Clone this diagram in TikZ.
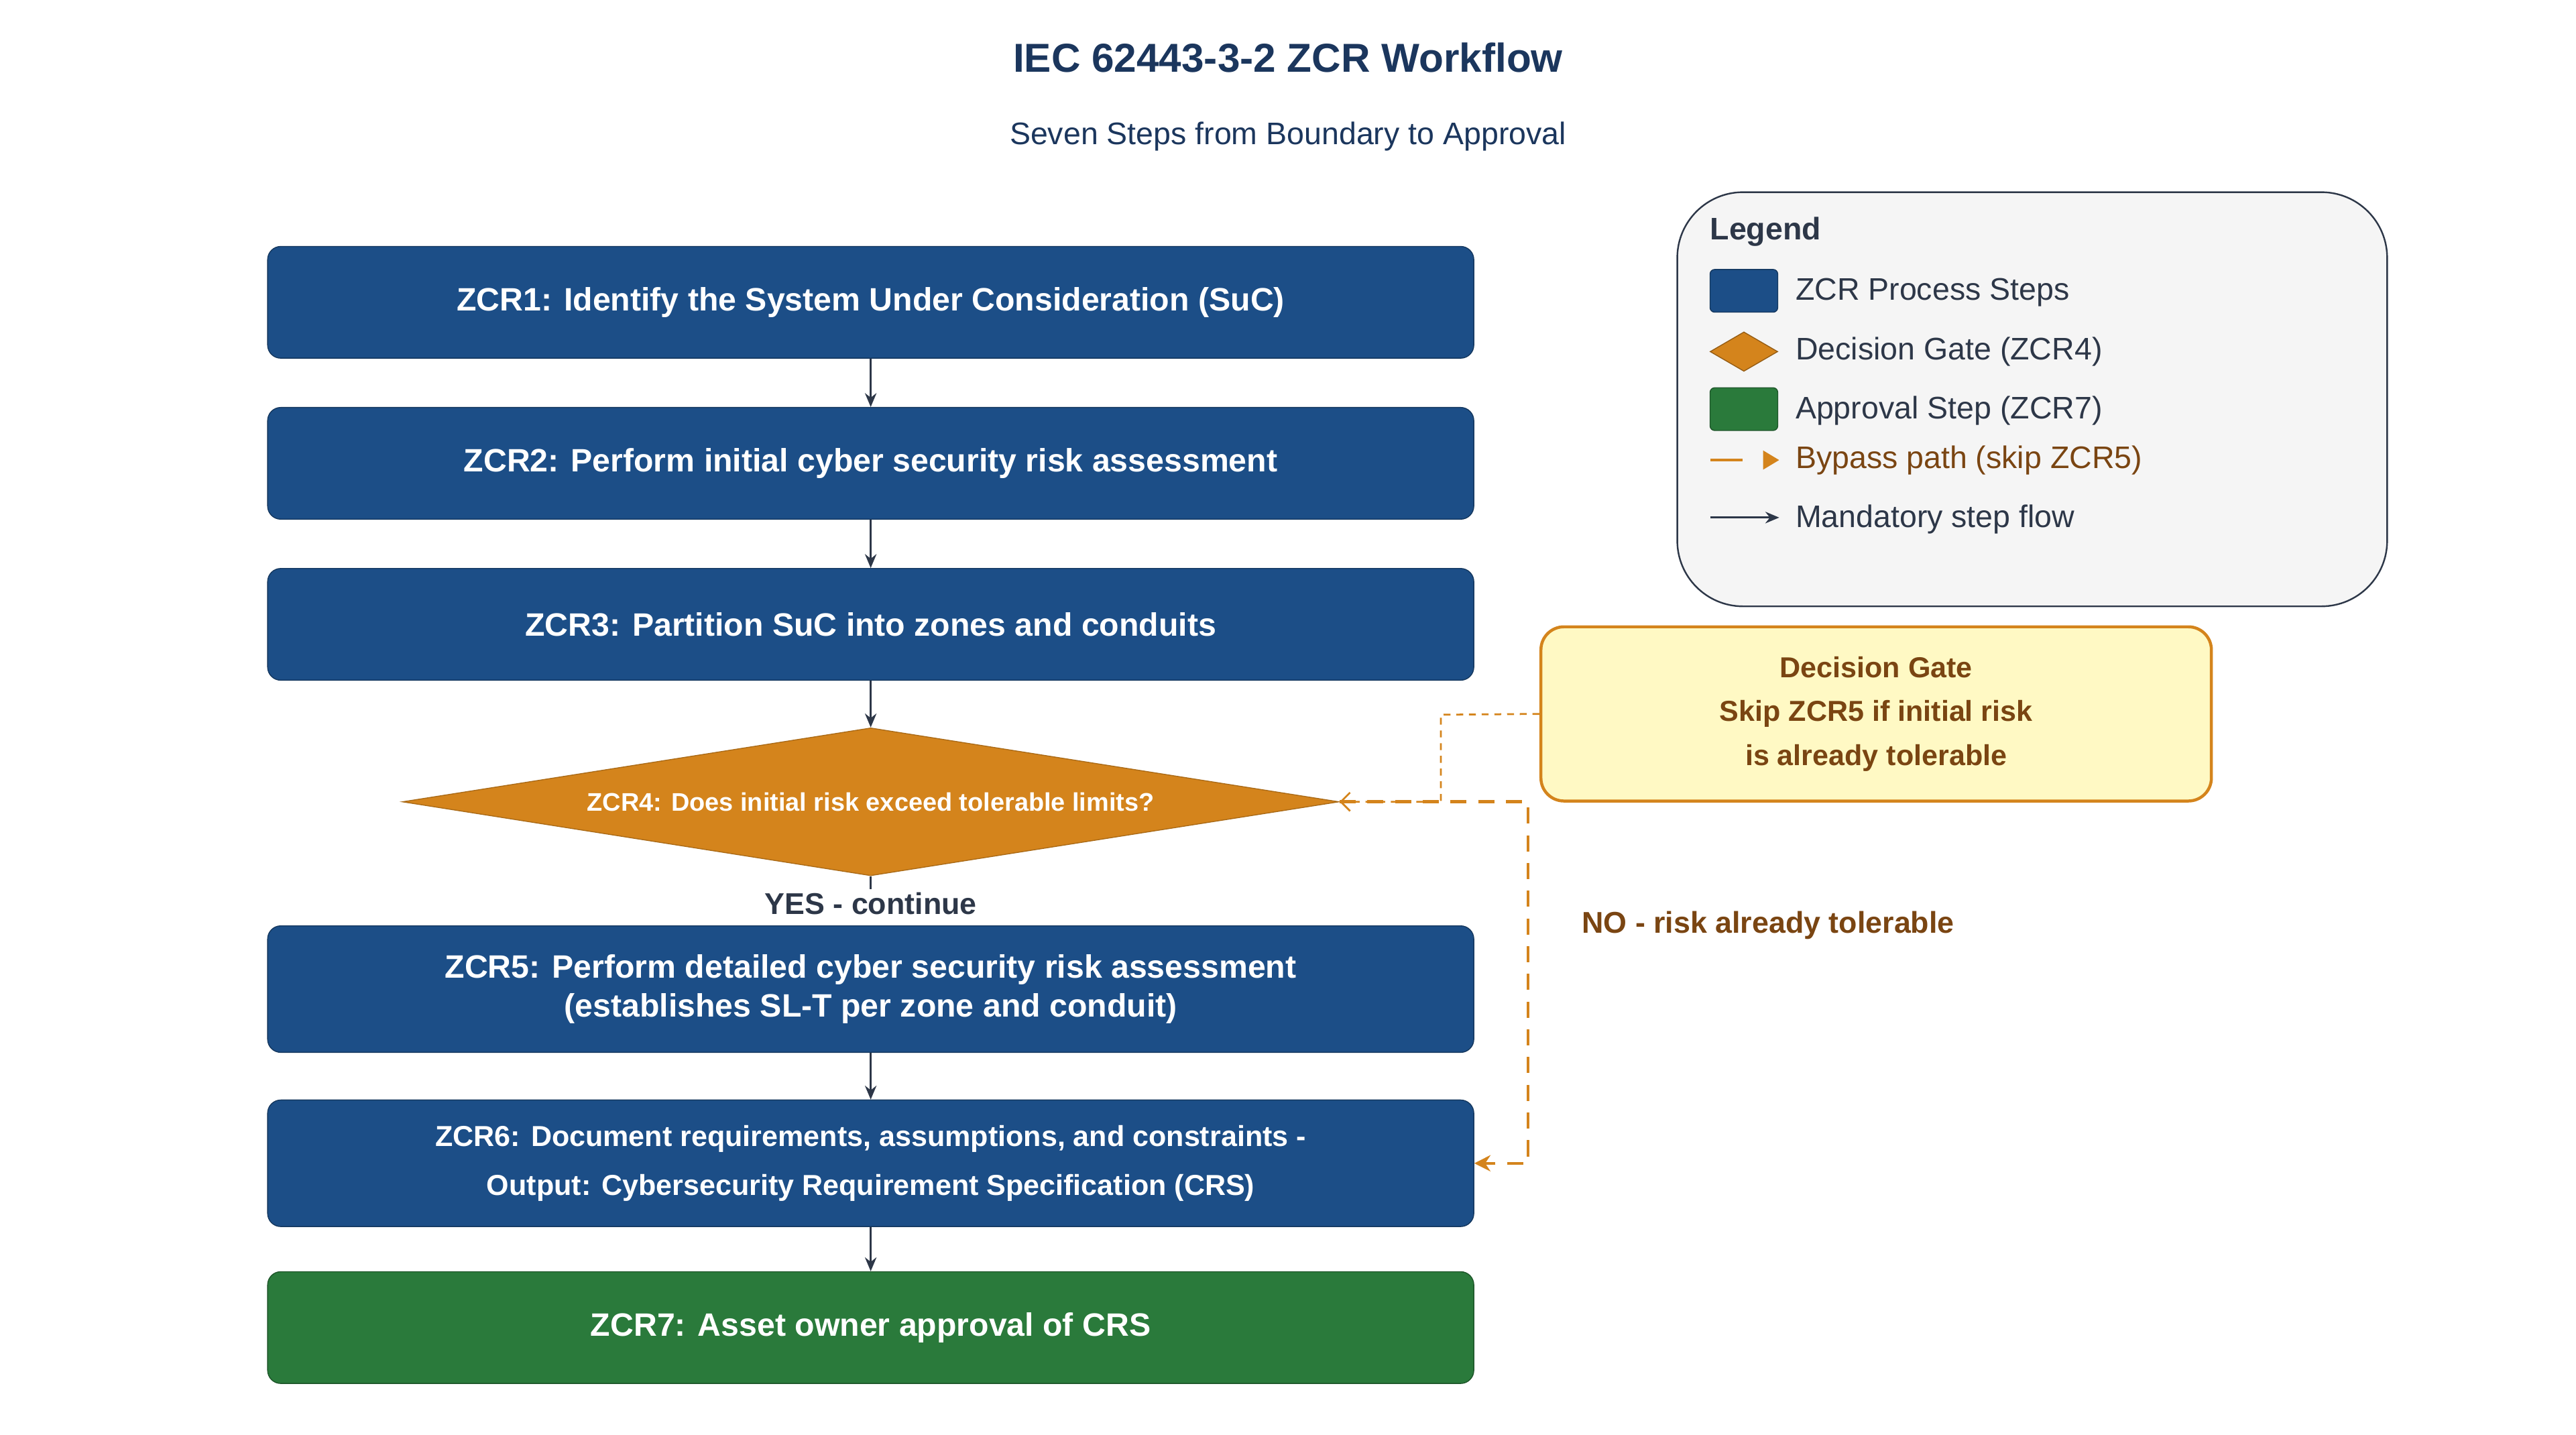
\documentclass[tikz,border=0pt]{standalone}
\usepackage{fontspec}
\setmainfont{Liberation Sans}
\usetikzlibrary{shapes.geometric,arrows.meta,positioning}
\definecolor{zblue}{HTML}{1C4E87}
\definecolor{zorange}{HTML}{D4841C}
\definecolor{zgreen}{HTML}{2A7A3B}
\definecolor{zbrown}{HTML}{7A4512}
\definecolor{ztitle}{HTML}{1B365D}
\definecolor{zdark}{HTML}{2D3748}
\definecolor{znote}{HTML}{FFF9C4}
\tikzset{
  zstep/.style={rectangle, rounded corners=0.2cm, draw=zblue!70!black, fill=zblue, text=white,
    font=\fontsize{14}{17}\selectfont\bfseries, minimum width=18.35cm, minimum height=1.7cm, align=center},
  ztall/.style={zstep, minimum height=1.925cm},
  flow/.style={-{Stealth[length=6pt,width=5pt]}, zdark, line width=0.9pt},
  bypass/.style={zorange, line width=1.3pt, dash pattern=on 7pt off 5pt},
  litem/.style={anchor=west, font=\fontsize{13.5}{16}\selectfont, text=zdark},
}
\begin{document}
\begin{tikzpicture}[x=0.025cm, y=-0.025cm]
    \useasboundingbox (0,0) rectangle (1568,873);
    \node[font=\fontsize{17.5}{20}\selectfont\bfseries, text=ztitle] (title) at (784,35) {IEC 62443-3-2 ZCR Workflow};
    \node[font=\fontsize{13.5}{16}\selectfont, text=ztitle] (sub) at (784,83) {Seven Steps from Boundary to Approval};

    % main steps
    \node[zstep] (z1) at (530,184) {ZCR1: Identify the System Under Consideration (SuC)};
    \node[zstep] (z2) at (530,282) {ZCR2: Perform initial cyber security risk assessment};
    \node[zstep] (z3) at (530,380) {ZCR3: Partition SuC into zones and conduits};
    \node[diamond, aspect=6.3, inner sep=0pt, minimum width=14.25cm, minimum height=2.25cm,
      draw=zorange!80!black, fill=zorange, text=white, font=\fontsize{11}{13}\selectfont\bfseries] (z4) at (530,488)
      {ZCR4: Does initial risk exceed tolerable limits?};
    \node[ztall] (z5) at (530,602) {ZCR5: Perform detailed cyber security risk assessment\\(establishes SL-T per zone and conduit)};
    \node[ztall, font=\fontsize{12.5}{21}\selectfont\bfseries] (z6) at (530,708) {ZCR6: Document requirements, assumptions, and constraints -\\Output: Cybersecurity Requirement Specification (CRS)};
    \node[zstep, fill=zgreen, draw=zgreen!70!black] (z7) at (530,808) {ZCR7: Asset owner approval of CRS};

    \draw[flow] (z1) -- (z2);
    \draw[flow] (z2) -- (z3);
    \draw[flow] (z3) -- (z4);
    \draw[zdark, line width=0.9pt] (z4.south) -- ++(0,8);
    \draw[flow] (z5) -- (z6);
    \draw[flow] (z6) -- (z7);
    \node[font=\fontsize{13}{15}\selectfont\bfseries, text=zdark] (yes) at (530,550) {YES - continue};

    % bypass
    \coordinate (bp1) at (930,488);
    \coordinate (bp2) at (930,708);
    \draw[bypass, -{Stealth[length=7pt,width=7pt]}] (z4.east) -- (bp1) -- (bp2) -- (z6.east);
    \node[anchor=west, font=\fontsize{13}{15}\selectfont\bfseries, text=zbrown] (no) at (958,563) {NO - risk already tolerable};

    % note
    \node[rectangle, rounded corners=0.35cm, draw=zorange, line width=1.3pt, fill=znote, minimum width=10.2cm,
      minimum height=2.65cm, align=center, text=zbrown, font=\fontsize{12.5}{19}\selectfont\bfseries] (note) at (1142,434.5)
      {Decision Gate\\Skip ZCR5 if initial risk\\is already tolerable};
    \coordinate (nt) at (877,435);
    \draw[zorange, line width=0.8pt, dash pattern=on 3pt off 2.5pt, -{Straight Barb[length=4pt]}] (note.west) -- (nt) |- (z4.east);

    % legend
    \node[rectangle, rounded corners=1cm, draw=zdark, line width=0.7pt, fill=black!4, minimum width=10.8cm,
      minimum height=6.3cm] (leg) at (1237,243) {};
    \node[anchor=west, font=\fontsize{13.5}{16}\selectfont\bfseries, text=zdark] (legt) at (1036,141) {Legend};
    \node[rectangle, rounded corners=2pt, fill=zblue, draw=zblue!70!black, minimum width=1.03cm, minimum height=0.65cm] (lb) at (1061.5,177) {};
    \node[litem] (lbt) at (1088,178) {ZCR Process Steps};
    \node[diamond, aspect=1.6, inner sep=0pt, minimum width=1.03cm, minimum height=0.6cm, fill=zorange, draw=zorange!70!black] (ld) at (1061.5,214) {};
    \node[litem] (ldt) at (1088,214) {Decision Gate (ZCR4)};
    \node[rectangle, rounded corners=2pt, fill=zgreen, draw=zgreen!70!black, minimum width=1.03cm, minimum height=0.65cm] (lg) at (1061.5,249) {};
    \node[litem] (lgt) at (1088,250) {Approval Step (ZCR7)};
    \coordinate (la1) at (1041,280);
    \coordinate (la2) at (1083,280);
    \draw[zorange, line width=1.3pt, dash pattern=on 14pt off 9pt, -{Triangle[length=7pt,width=8pt]}] (la1) -- (la2);
    \node[litem, text=zbrown] (lat) at (1088,280) {Bypass path (skip ZCR5)};
    \coordinate (lm1) at (1041,315);
    \coordinate (lm2) at (1083,315);
    \draw[flow] (lm1) -- (lm2);
    \node[litem] (lmt) at (1088,316) {Mandatory step flow};
\end{tikzpicture}
\end{document}
